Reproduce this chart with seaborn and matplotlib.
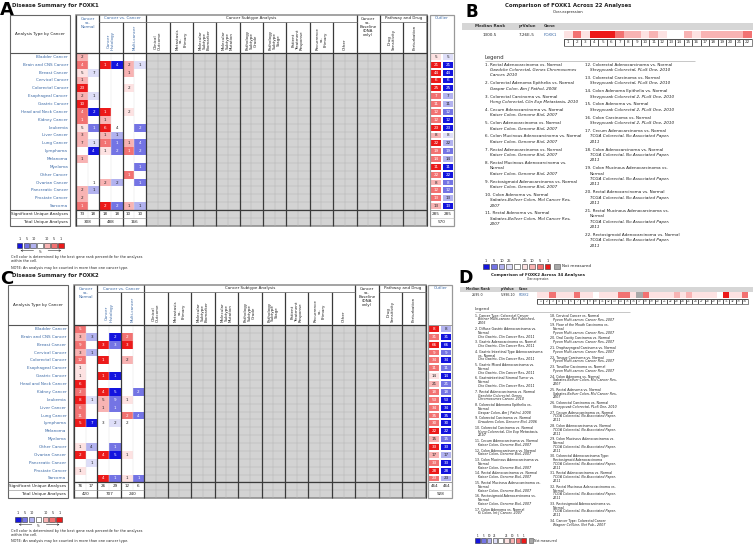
import numpy as np
import matplotlib.pyplot as plt
import seaborn as sns
from matplotlib.colors import ListedColormap
from matplotlib.patches import Rectangle

sns.set_theme(style="white")
plt.rcParams['font.family'] = ['DejaVu Sans']

# ---------------- dados ----------------
cancers = ["Bladder Cancer", "Brain and CNS Cancer", "Breast Cancer", "Cervical Cancer",
           "Colorectal Cancer", "Esophageal Cancer", "Gastric Cancer", "Head and Neck Cancer",
           "Kidney Cancer", "Leukemia", "Liver Cancer", "Lung Cancer", "Lymphoma", "Melanoma",
           "Myeloma", "Other Cancer", "Ovarian Cancer", "Pancreatic Cancer", "Prostate Cancer",
           "Sarcoma"]

# FOXK1 (A): numero de analises e nivel de cor (0 branco ... 4 = top 1%)
k1_cvn_up_n = [2, 4, 5, 1, 23, 2, 10, 4, 1, 5, 3, 7, 0, 1, 0, 0, 0, 2, 2, 1]
k1_cvn_up_lv = [2, 3, 1, 2, 4, 2, 4, 3, 3, 1, 2, 2, 0, 2, 0, 0, 0, 2, 2, 3]
k1_cvn_dn_n = [0, 0, 7, 0, 0, 1, 0, 2, 0, 1, 0, 1, 4, 0, 0, 0, 1, 1, 0, 0]
k1_cvn_dn_lv = [0, 0, 1, 0, 0, 1, 0, 4, 0, 3, 0, 1, 4, 0, 0, 0, 0, 2, 0, 0]
k1_his_up_n = [0, 1, 0, 0, 0, 0, 0, 1, 1, 6, 1, 1, 1, 0, 0, 0, 2, 0, 0, 2]
k1_his_up_lv = [0, 4, 0, 0, 0, 0, 0, 4, 2, 4, 2, 3, 1, 0, 0, 0, 2, 0, 0, 4]
k1_his_dn_n = [0, 4, 0, 0, 0, 0, 0, 0, 0, 4, 1, 1, 2, 0, 0, 0, 2, 0, 0, 2]
k1_his_dn_lv = [0, 4, 0, 0, 0, 0, 0, 0, 0, 0, 2, 3, 3, 0, 0, 0, 2, 0, 0, 3]
k1_mul_up_n = [0, 2, 1, 0, 2, 0, 0, 2, 0, 0, 0, 1, 1, 0, 0, 1, 0, 0, 0, 1]
k1_mul_up_lv = [0, 2, 2, 0, 1, 0, 0, 1, 0, 0, 0, 2, 3, 0, 0, 3, 0, 0, 0, 2]
k1_mul_dn_n = [0, 1, 0, 0, 0, 0, 0, 0, 0, 2, 0, 4, 2, 0, 1, 0, 1, 0, 0, 1]
k1_mul_dn_lv = [0, 1, 0, 0, 0, 0, 0, 0, 0, 3, 0, 3, 3, 0, 3, 0, 3, 0, 0, 2]
k1_sig = [73, 18, 18, 18, 10, 10]
k1_tot = [308, 488, 166]
k1_out_n = [5, 21, 44, 6, 25, 7, 11, 12, 12, 23, 8, 22, 19, 14, 11, 22, 8, 12, 13, 13]
k1_out_up = [1, 4, 4, 4, 4, 3, 3, 3, 3, 4, 2, 4, 3, 3, 4, 3, 2, 3, 3, 2]
k1_out_dn = [1, 4, 4, 4, 4, 2, 2, 3, 4, 4, 1, 2, 3, 2, 4, 4, 3, 3, 2, 4]
k1_out_sig = [285, 285]
k1_out_tot = 570

# FOXK2 (C)
k2_cvn_up_n = [5, 3, 9, 3, 12, 1, 1, 6, 2, 8, 6, 11, 5, 0, 0, 1, 2, 0, 1, 0]
k2_cvn_up_lv = [3, 2, 3, 2, 3, 1, 1, 4, 3, 4, 3, 3, 4, 0, 0, 1, 4, 0, 1, 0]
k2_cvn_dn_n = [0, 3, 0, 1, 0, 0, 0, 0, 0, 1, 0, 0, 7, 0, 0, 4, 0, 1, 0, 0]
k2_cvn_dn_lv = [0, 2, 0, 2, 0, 0, 0, 0, 0, 1, 0, 0, 4, 0, 0, 2, 0, 1, 0, 0]
k2_his_up_n = [0, 0, 3, 0, 1, 0, 1, 0, 4, 5, 1, 0, 3, 0, 0, 0, 4, 0, 0, 4]
k2_his_up_lv = [0, 0, 4, 0, 4, 0, 4, 0, 4, 2, 2, 0, 0, 0, 0, 0, 4, 0, 0, 4]
k2_his_dn_n = [0, 2, 3, 0, 0, 0, 1, 0, 5, 9, 1, 0, 2, 0, 0, 1, 5, 0, 0, 1]
k2_his_dn_lv = [0, 4, 3, 0, 0, 0, 4, 0, 4, 3, 3, 0, 1, 0, 0, 3, 4, 0, 0, 3]
k2_mul_up_n = [0, 2, 3, 0, 2, 0, 0, 0, 0, 1, 0, 2, 2, 0, 0, 0, 1, 0, 0, 1]
k2_mul_up_lv = [0, 3, 4, 0, 2, 0, 0, 0, 0, 1, 0, 3, 0, 0, 0, 0, 1, 0, 0, 1]
k2_mul_dn_n = [0, 0, 0, 0, 0, 0, 0, 0, 2, 0, 0, 4, 0, 0, 0, 0, 0, 0, 0, 1]
k2_mul_dn_lv = [0, 0, 0, 0, 0, 0, 0, 0, 3, 0, 0, 3, 0, 0, 0, 0, 0, 0, 0, 3]
k2_sig = [76, 17, 26, 29, 12, 6]
k2_tot = [420, 707, 240]
k2_out_n = [8, 31, 66, 9, 34, 11, 14, 21, 18, 53, 34, 35, 30, 22, 15, 33, 17, 33, 28, 23]
k2_out_up = [4, 3, 4, 3, 3, 3, 1, 2, 3, 3, 3, 3, 3, 4, 2, 4, 2, 3, 4, 3]
k2_out_dn = [2, 4, 4, 3, 4, 3, 4, 3, 3, 4, 4, 4, 4, 4, 3, 4, 2, 4, 4, 2]
k2_out_sig = [464, 464]
k2_out_tot = 928

# B: FOXK1 em 22 analises colorretais (None = nao medido)
b_levels = [1, 3, 1, 4, 4, 4, 3, 2, 2, 1, 2, 1, 0, 0, 2, 1, 2, 2, 2, 2, 2, 3]
b_stats = ["1300.5", "7.26E-5", "FOXK1"]
tcga = "TCGA Colorectal, No Associated Paper,\n2011"
b_left = [("Rectal Adenocarcinoma vs. Normal", "Gaedcke Colorectal, Genes Chromosomes\nCancer, 2010"),
          ("Colorectal Adenoma Epithelia vs. Normal", "Gaspar Colon, Am J Pathol, 2008"),
          ("Colorectal Carcinoma vs. Normal", "Hong Colorectal, Clin Exp Metastasis, 2010"),
          ("Cecum Adenocarcinoma vs. Normal", "Kaiser Colon, Genome Biol, 2007"),
          ("Colon Adenocarcinoma vs. Normal", "Kaiser Colon, Genome Biol, 2007"),
          ("Colon Mucinous Adenocarcinoma vs. Normal", "Kaiser Colon, Genome Biol, 2007"),
          ("Rectal Adenocarcinoma vs. Normal", "Kaiser Colon, Genome Biol, 2007"),
          ("Rectal Mucinous Adenocarcinoma vs.\nNormal", "Kaiser Colon, Genome Biol, 2007"),
          ("Rectosigmoid Adenocarcinoma vs. Normal", "Kaiser Colon, Genome Biol, 2007"),
          ("Colon Adenoma vs. Normal", "Sabates-Bellver Colon, Mol Cancer Res,\n2007"),
          ("Rectal Adenoma vs. Normal", "Sabates-Bellver Colon, Mol Cancer Res,\n2007")]
b_right = [("Colorectal Adenocarcinoma vs. Normal", "Skrzypczak Colorectal, PLoS One, 2010"),
           ("Colorectal Carcinoma vs. Normal", "Skrzypczak Colorectal, PLoS One, 2010"),
           ("Colon Adenoma Epithelia vs. Normal", "Skrzypczak Colorectal 2, PLoS One, 2010"),
           ("Colon Adenoma vs. Normal", "Skrzypczak Colorectal 2, PLoS One, 2010"),
           ("Colon Carcinoma vs. Normal", "Skrzypczak Colorectal 2, PLoS One, 2010"),
           ("Cecum Adenocarcinoma vs. Normal", tcga),
           ("Colon Adenocarcinoma vs. Normal", tcga),
           ("Colon Mucinous Adenocarcinoma vs.\nNormal", tcga),
           ("Rectal Adenocarcinoma vs. Normal", tcga),
           ("Rectal Mucinous Adenocarcinoma vs.\nNormal", tcga),
           ("Rectosigmoid Adenocarcinoma vs. Normal", tcga)]

# D: FOXK2 em 34 analises
d_levels = [1, 1, 3, 1, 1, 1, 3, 1, 1, 0, 1, 1, 1, 3, 3, 1, None, 3, 1, 1, 1, 1, 2, 1, 2,
            1, 1, 1, 1, 0, 4, 1, 1, 3]
d_stats = ["2695.0", "5.99E-10", "FOXK2"]
cho = "Cho Gastric, Clin Cancer Res, 2011"
kai = "Kaiser Colon, Genome Biol, 2007"
pye = "Pyeon Multi-cancer, Cancer Res, 2007"
d_left = [("Cancer Type: Colorectal Cancer", "Bittner Multi-cancer, Not Published,\n2005"),
          ("Diffuse Gastric Adenocarcinoma vs.\nNormal", cho),
          ("Gastric Adenocarcinoma vs. Normal", cho),
          ("Gastric Intestinal Type Adenocarcinoma\nvs. Normal", cho),
          ("Gastric Mixed Adenocarcinoma vs.\nNormal", cho),
          ("Gastrointestinal Stromal Tumor vs.\nNormal", cho),
          ("Rectal Adenocarcinoma vs. Normal", "Gaedcke Colorectal, Genes\nChromosomes Cancer, 2010"),
          ("Colorectal Adenoma Epithelia vs.\nNormal", "Gaspar Colon, Am J Pathol, 2008"),
          ("Colorectal Carcinoma vs. Normal", "Graudens Colon, Genome Biol, 2006"),
          ("Colorectal Carcinoma vs. Normal", "Hong Colorectal, Clin Exp Metastasis,\n2010"),
          ("Cecum Adenocarcinoma vs. Normal", kai),
          ("Colon Adenocarcinoma vs. Normal", kai),
          ("Colon Mucinous Adenocarcinoma vs.\nNormal", kai),
          ("Rectal Adenocarcinoma vs. Normal", kai),
          ("Rectal Mucinous Adenocarcinoma vs.\nNormal", kai),
          ("Rectosigmoid Adenocarcinoma vs.\nNormal", kai),
          ("Colon Adenoma vs. Normal", "Ki Colon, Int J Cancer, 2007")]
d_right = [("Cervical Cancer vs. Normal", pye),
           ("Floor of the Mouth Carcinoma vs.\nNormal", pye),
           ("Oral Cavity Carcinoma vs. Normal", pye),
           ("Oropharyngeal Carcinoma vs. Normal", pye),
           ("Tongue Carcinoma vs. Normal", pye),
           ("Tonsillar Carcinoma vs. Normal", pye),
           ("Colon Adenoma vs. Normal", "Sabates-Bellver Colon, Mol Cancer Res,\n2007"),
           ("Rectal Adenoma vs. Normal", "Sabates-Bellver Colon, Mol Cancer Res,\n2007"),
           ("Colorectal Carcinoma vs. Normal", "Skrzypczak Colorectal, PLoS One, 2010"),
           ("Cecum Adenocarcinoma vs. Normal", tcga),
           ("Colon Adenocarcinoma vs. Normal", tcga),
           ("Colon Mucinous Adenocarcinoma vs.\nNormal", tcga),
           ("Colorectal Adenocarcinoma Type:\nRectosigmoid Adenocarcinoma", tcga),
           ("Rectal Adenocarcinoma vs. Normal", tcga),
           ("Rectal Mucinous Adenocarcinoma vs.\nNormal", tcga),
           ("Rectosigmoid Adenocarcinoma vs.\nNormal", tcga),
           ("Cancer Type: Colorectal Cancer", "Wagner CellLine, Not Pub., 2007")]

subtypes = ["Clinical\nOutcome", "Metastasis\nvs.\nPrimary", "Molecular\nSubtype\nBiomarker",
            "Molecular\nSubtype\nMutation", "Pathology\nSubtype\nGrade", "Pathology\nSubtype\nStage",
            "Patient\nTreatment\nResponse", "Recurrence\nvs.\nPrimary", "Other"]

# ---------------- cores ----------------
red = ['#fde2e2', '#f8b3b3', '#f27272', '#ec1a1a']
blue = ['#dedef8', '#b2b2ef', '#7474e4', '#1414de']
cmap = ListedColormap(blue[::-1] + ['#ffffff'] + red).with_extremes(under='#a9a9a9')
link = '#3b69a6'
ink = '#222222'

W, H = 753, 547
fig = plt.figure(figsize=(W / 100, H / 100), dpi=100)
bg = fig.add_axes([0, 0, 1, 1], zorder=0)
top = fig.add_axes([0, 0, 1, 1], zorder=10)
for a in (bg, top):
    a.set_xlim(0, W)
    a.set_ylim(H, 0)
    a.axis('off')


def px_axes(x0, y0, x1, y1):
    return fig.add_axes([x0 / W, 1 - y1 / H, (x1 - x0) / W, (y1 - y0) / H], zorder=5)


def T(x, y, s, fs=3.0, **kw):
    kw.setdefault('ha', 'center')
    kw.setdefault('va', 'center')
    kw.setdefault('color', ink)
    top.text(x, y, s, fontsize=fs, **kw)


def L(x0, y0, x1, y1, c='#333333', lw=0.8):
    top.plot([x0, x1], [y0, y1], color=c, lw=lw, solid_capstyle='butt')


def heat(ax, vals, annot, fs, lw=0.0, lc='white'):
    sns.heatmap(vals, ax=ax, cmap=cmap, vmin=-4.5, vmax=4.5, cbar=False,
                annot=annot if annot is not None else False, fmt='',
                annot_kws={'size': fs}, xticklabels=False, yticklabels=False,
                linewidths=lw, linecolor=lc)


def draw_table(letter, title, blocks, sig, tot, out_n, out_up, out_dn, out_sig, out_tot, g):
    lx0, lx1, gx0, cw, yt, yg, yh, rh, ox0, ow, yl = g
    n = len(cancers)
    yd = yh + n * rh
    ys, ytt, yb = yd + rh / 2, yd + 1.5 * rh, yd + 2 * rh

    def gx(i):
        return gx0 + i * cw

    T(0, yl, letter, 13, ha='left', va='baseline', weight='bold', color='black')
    T(12.3, yt - 9.7, title, 3.9, ha='left', weight='bold')

    # area cinza (sem dados)
    bg.add_patch(Rectangle((gx(6), yh), gx(30) - gx(6), yb - yh, fc='#d3d3d3', ec='none'))
    for i in range(7, 30, 2):
        L(gx(i), yh, gx(i), yb, '#b4b4b4', 0.35)
    for r in range(1, n + 2):
        L(gx(6), yh + r * rh, gx(30), yh + r * rh, '#b4b4b4', 0.35)
    for i in (1, 3, 5):
        L(gx(i), yh, gx(i), yd + rh, '#e2e2e2', 0.3)

    # celulas coloridas
    vals = np.full((n, 6), np.nan)
    ann = np.full((n, 6), '', dtype=object)
    for j, (cnt, lv) in enumerate(blocks):
        sgn = 1 if j % 2 == 0 else -1
        for i in range(n):
            if cnt[i]:
                vals[i, j] = sgn * lv[i]
                ann[i, j] = str(cnt[i])
    heat(px_axes(gx(0), yh, gx(6), yd), vals, ann, 3.0)

    for j, v in enumerate(sig):
        T(gx(j + 0.5), ys, str(v), 3.0)
    for j, v in enumerate(tot):
        T(gx(2 * j + 1), ytt, str(v), 3.0)

    # linhas da tabela
    top.add_patch(Rectangle((gx(0), yt), gx(30) - gx(0), yb - yt, fc='none', ec='#8a8a8a', lw=1.1))
    for i in (0, 2, 6, 24, 26, 30):
        L(gx(i), yt, gx(i), yb, '#3a3a3a', 0.9)
    for i in (4,) + tuple(range(8, 24, 2)) + (28,):
        L(gx(i), yg, gx(i), yb, '#3a3a3a', 0.9)
    L(gx(2), yg, gx(24), yg, '#777777', 0.6)
    L(gx(26), yg, gx(30), yg, '#777777', 0.6)
    L(gx(0), yh, gx(30), yh, '#3a3a3a', 0.9)
    L(gx(0), yd, gx(30), yd, '#3a3a3a', 0.9)
    L(gx(0), yd + rh, gx(6), yd + rh, '#888888', 0.4)

    # cabecalhos
    T(gx(1), yt + 1.6, "Cancer\nvs.\nNormal", 2.9, va='top', color=link, linespacing=1.0)
    T(gx(4), (yt + yg) / 2, "Cancer vs. Cancer", 2.9, color=link)
    T(gx(15), (yt + yg) / 2, "Cancer Subtype Analysis", 2.9)
    T(gx(25), yt + 1.6, "Cancer\nvs.\nBaseline\n(DNA\nonly)", 2.9, va='top', linespacing=1.0)
    T(gx(28), (yt + yg) / 2, "Pathway and Drug", 2.9)
    rot = dict(rotation=90, va='bottom', linespacing=1.0, multialignment='center')
    T(gx(3), yh - 2.5, "Cancer\nHistology", 2.9, color=link, **rot)
    T(gx(5), yh - 2.5, "Multi-cancer", 2.9, color=link, **rot)
    for k, s in enumerate(subtypes):
        T(gx(7 + 2 * k), yh - 2.5, s, 2.9, **rot)
    T(gx(27), yh - 2.5, "Drug\nSensitivity", 2.9, **rot)
    T(gx(29), yh - 2.5, "Perturbation", 2.9, **rot)

    # coluna de rotulos
    top.add_patch(Rectangle((lx0, yt), lx1 - lx0, yb - yt, fc='none', ec='#666666', lw=0.8))
    L(lx0, yh, lx1, yh, '#555555', 0.8)
    L(lx0, yd, lx1, yd, '#555555', 0.8)
    L(lx0, yd + rh, lx1, yd + rh, '#888888', 0.4)
    T((lx0 + lx1) / 2, (yt + yh) / 2, "Analysis Type by Cancer", 3.0)
    for i, c in enumerate(cancers):
        T(lx1 - 2, yh + (i + 0.5) * rh, c, 3.0, ha='right', color=link)
    T(lx1 - 2, ys, "Significant Unique Analyses", 3.0, ha='right')
    T(lx1 - 2, ytt, "Total Unique Analyses", 3.0, ha='right')

    # outlier
    ov = np.column_stack([out_up, -np.array(out_dn)]).astype(float)
    oa = np.array([[str(v), str(v)] for v in out_n], dtype=object)
    heat(px_axes(ox0, yh, ox0 + 2 * ow, yd), ov, oa, 3.0, lw=0.3)
    top.add_patch(Rectangle((ox0, yt), 2 * ow, yb - yt, fc='none', ec='#999999', lw=0.9))
    L(ox0, yh, ox0 + 2 * ow, yh, '#999999', 0.7)
    L(ox0, yd, ox0 + 2 * ow, yd, '#999999', 0.7)
    L(ox0, yd + rh, ox0 + 2 * ow, yd + rh, '#bbbbbb', 0.4)
    T(ox0 + ow, yt + 3.3, "Outlier", 2.9, color=link)
    for j, v in enumerate(out_sig):
        T(ox0 + (j + 0.5) * ow, ys, str(v), 3.0)
    T(ox0 + ow, ytt, str(out_tot), 3.0)


def footer(x0, ynum, ybox, yar, yt1, ynote):
    cols = [blue[3], blue[2], blue[1], '#ffffff', red[1], red[2], red[3]]
    labs = ['1', '5', '10', '', '10', '5', '1']
    step, size = 6.9, 5.6
    for i, (c, s) in enumerate(zip(cols, labs)):
        top.add_patch(Rectangle((x0 + i * step, ybox), size, size, fc=c, ec='#333333', lw=0.4))
        T(x0 + i * step + size / 2, ynum, s, 2.4)
    top.annotate('', xy=(x0 + 1, yar), xytext=(x0 + 3 * step - 1, yar),
                 arrowprops=dict(arrowstyle='->', lw=0.4, color='#333333', mutation_scale=3))
    top.annotate('', xy=(x0 + 7 * step - 1, yar), xytext=(x0 + 4 * step + 1, yar),
                 arrowprops=dict(arrowstyle='->', lw=0.4, color='#333333', mutation_scale=3))
    T(x0 + 3 * step + size / 2, yar + 1.8, '%', 2.2)
    T(11, yt1, "Cell color is determined by the best gene rank percentile for the analyses\nwithin the cell.",
      2.5, ha='left', va='top', linespacing=1.1)
    T(11, ynote, "NOTE: An analysis may be counted in more than one cancer type.", 2.5, ha='left')


def draw_comparison(letter, title, levels, stats, left, right, g):
    (lx, lbase, lfs, tx, ty, tfs, band, hdr, hfs, sx0, sx1, sy0, sy1, ny1, nfs,
     legy, legx1, cols_x, ent_y, lh, gap, ind, efs, bar) = g
    T(lx, lbase, letter, lfs, ha='left', va='baseline', weight='bold', color='black')
    T(tx, ty, title, tfs, weight='bold')
    T(tx, ty + tfs * 1.55, "Over-expression", tfs * 0.7)
    bg.add_patch(Rectangle((band[0], band[1]), W - band[0], band[2] - band[1], fc='#d6d6d6', ec='none'))
    hy = (band[1] + band[2]) / 2
    vy = (sy0 + sy1) / 2
    for (name, x), val in zip(hdr, stats):
        T(x, hy, name, hfs, weight='bold', color='#333333')
        T(x, vy, val, hfs, color=link if val.startswith('FOXK') else ink)

    v = np.array([[-9 if l is None else l for l in levels]], dtype=float)
    heat(px_axes(sx0, sy0, sx1, sy1), v, None, nfs)
    nums = np.array([[str(i + 1) for i in range(len(levels))]], dtype=object)
    axn = px_axes(sx0, sy1 + 0.3, sx1, ny1)
    sns.heatmap(np.zeros((1, len(levels))), ax=axn, cmap=ListedColormap(['white']), cbar=False,
                annot=nums, fmt='', annot_kws={'size': nfs, 'color': '#333333'},
                linewidths=0.5, linecolor='#555555', xticklabels=False, yticklabels=False)
    top.add_patch(Rectangle((sx0, sy1 + 0.3), sx1 - sx0, ny1 - sy1 - 0.3, fc='none', ec='#555555', lw=0.5))

    T(cols_x[0], legy, "Legend", efs * 1.3, ha='left', color='#333333')
    L(cols_x[0], legy + efs * 1.1, legx1, legy + efs * 1.1, '#b0b0b0', 0.5)
    k = 1
    for x, ents in zip(cols_x, (left, right)):
        y = ent_y
        for ttl, cit in ents:
            tl = ttl.split('\n')
            cl = cit.split('\n')
            T(x, y, f"{k}. {tl[0]}", efs, ha='left')
            y += lh
            for s in tl[1:]:
                T(x + ind, y, s, efs, ha='left')
                y += lh
            for s in cl:
                T(x + ind, y, s, efs, ha='left', style='italic')
                y += lh
            y += gap
            k += 1

    bx0, by0, step, size, bfs = bar
    cols = [blue[3], blue[2], blue[1], blue[0], '#ffffff', red[0], red[1], red[2], red[3]]
    labs = ['1', '5', '10', '25', '', '25', '10', '5', '1']
    for i, (c, s) in enumerate(zip(cols, labs)):
        top.add_patch(Rectangle((bx0 + i * step, by0), size, size, fc=c, ec='#333333', lw=0.4))
        T(bx0 + i * step + size / 2, by0 - bfs * 1.1, s, bfs)
    gx = bx0 + 9 * step + size * 0.3
    top.add_patch(Rectangle((gx, by0), size, size, fc='#a9a9a9', ec='#555555', lw=0.4))
    T(gx + size * 1.3, by0 + size / 2, "Not measured", bfs * 1.15, ha='left')


k1_blocks = [(k1_cvn_up_n, k1_cvn_up_lv), (k1_cvn_dn_n, k1_cvn_dn_lv), (k1_his_up_n, k1_his_up_lv),
             (k1_his_dn_n, k1_his_dn_lv), (k1_mul_up_n, k1_mul_up_lv), (k1_mul_dn_n, k1_mul_dn_lv)]
k2_blocks = [(k2_cvn_up_n, k2_cvn_up_lv), (k2_cvn_dn_n, k2_cvn_dn_lv), (k2_his_up_n, k2_his_up_lv),
             (k2_his_dn_n, k2_his_dn_lv), (k2_mul_up_n, k2_mul_up_lv), (k2_mul_dn_n, k2_mul_dn_lv)]

draw_table("A", "Disease Summary for FOXK1", k1_blocks, k1_sig, k1_tot, k1_out_n, k1_out_up,
           k1_out_dn, k1_out_sig, k1_out_tot,
           (10, 70, 76, 11.69, 15, 21.7, 53, 7.85, 430, 12, 15))
footer(16.7, 239, 242.5, 250.6, 254.8, 267.7)

draw_table("C", "Disease Summary for FOXK2", k2_blocks, k2_sig, k2_tot, k2_out_n, k2_out_up,
           k2_out_dn, k2_out_sig, k2_out_tot,
           (7.7, 68.3, 74, 11.72, 285, 292, 325, 7.87, 428.3, 12, 283.5))
footer(15, 513, 516.5, 524.6, 529.2, 541)

draw_comparison("B", "Comparison of FOXK1 Across 22 Analyses", b_levels, b_stats, b_left, b_right,
                (466, 17, 12, 568, 5.5, 3.9, (462, 22.7, 30.2),
                 [("Median Rank", 490), ("p-Value", 527), ("Gene", 550)], 3.0,
                 564, 752, 30.7, 38.3, 46, 3.0,
                 57.3, 695, (485, 585), 64.7, 5.4, 2.45, 5, 3.0,
                 (483.3, 263.5, 7.67, 5.8, 2.6)))

draw_comparison("D", "Comparison of FOXK2 Across 34 Analyses", d_levels, d_stats, d_left, d_right,
                (458, 283, 12.5, 538, 274.7, 2.9, (460, 286.6, 291.8),
                 [("Median Rank", 478), ("p-Value", 508), ("Gene", 524)], 2.3,
                 537, 748, 292.3, 298.3, 303.8, 2.1,
                 309.3, 630, (475, 550), 315.7, 3.8, 1.9, 3, 2.3,
                 (475.5, 538.3, 5.75, 4.4, 2.0)))

fig.savefig('out.png', dpi=100)
